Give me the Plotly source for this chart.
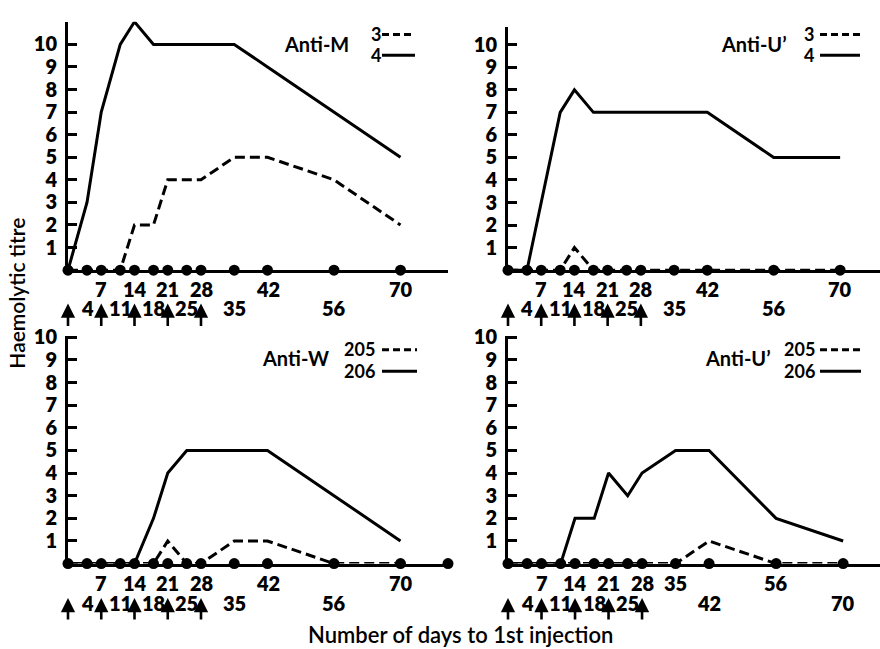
import plotly.graph_objects as go

W, H = 880, 649

# ---- data ----
days = [0, 4, 7, 11, 14, 18, 21, 25, 28, 35, 42, 56, 70]
injection_days = [0, 7, 14, 21, 28]

anti_m_3 = [0, 0, 0, 0, 2, 2, 4, 4, 4, 5, 5, 4, 2]
anti_m_4 = [0, 3, 7, 10, 11, 10, 10, 10, 10, 10, 9, 7, 5]

anti_u_3 = [0, 0, 0, 0, 1, 0, 0, 0, 0, 0, 0, 0, 0]
anti_u_4 = [0, 0, 3, 7, 8, 7, 7, 7, 7, 7, 7, 5, 5]

anti_w_205 = [0, 0, 0, 0, 0, 0, 1, 0, 0, 1, 1, 0, 0]
anti_w_206 = [0, 0, 0, 0, 0, 2, 4, 5, 5, 5, 5, 3, 1]

anti_u2_205 = [0, 0, 0, 0, 0, 0, 0, 0, 0, 0, 1, 0, 0]
anti_u2_206 = [0, 0, 0, 0, 2, 2, 4, 3, 4, 5, 5, 2, 1]

extra_dot_days_bl = [80]

labels_row1_a = [7, 14, 21, 28, 42, 70]
labels_row2_a = [4, 11, 18, 25, 35, 56]
labels_row1_b = [7, 14, 21, 28, 35, 56]
labels_row2_b = [4, 11, 18, 25, 42, 70]

y_ticks = [1, 2, 3, 4, 5, 6, 7, 8, 9, 10]


def px(x):
    return x / W


def py(y):
    return 1 - y / H


FONT = "Lato, 'Open Sans', 'DejaVu Sans', sans-serif"
BLACK = "#000000"

panels = [
    dict(name="Anti-M", a="3", b="4", ya=anti_m_3, yb=anti_m_4,
         xdom=(68, 448), xr=80, ydom=(263, 10), yr=11,
         r1=labels_row1_a, r2=labels_row2_a, rows=(282, 302), arrow=(297, 321),
         leg=dict(tx=316, ty=33, nx=376, na=22, nb=44, lx0=382, lx1=415),
         extra=[]),
    dict(name="Anti-U\u2019", a="3", b="4", ya=anti_u_3, yb=anti_u_4,
         xdom=(508, 880), xr=78.4, ydom=(263, 15), yr=10.8,
         r1=labels_row1_a, r2=labels_row2_a, rows=(282, 302), arrow=(297, 321),
         leg=dict(tx=754, ty=33, nx=809, na=22, nb=44, lx0=820, lx1=860),
         extra=[]),
    dict(name="Anti-W", a="205", b="206", ya=anti_w_205, yb=anti_w_206,
         xdom=(68, 448), xr=80, ydom=(562, 330), yr=10.06,
         r1=labels_row1_a, r2=labels_row2_a, rows=(582, 602), arrow=(597, 620),
         leg=dict(tx=295, ty=353, nx=359, na=343, nb=366, lx0=382, lx1=417),
         extra=extra_dot_days_bl),
    dict(name="Anti-U\u2019", a="205", b="206", ya=anti_u2_205, yb=anti_u2_206,
         xdom=(508, 880), xr=77.7, ydom=(562, 330), yr=10.06,
         r1=labels_row1_b, r2=labels_row2_b, rows=(582, 602), arrow=(597, 620),
         leg=dict(tx=738, ty=353, nx=799, na=343, nb=366, lx0=820, lx1=861),
         extra=[]),
]

fig = go.Figure()
annotations = []
shapes = []
layout = {}

tick_font = dict(family=FONT, size=20, color=BLACK, weight=800)

for i, p in enumerate(panels, start=1):
    xa = "x" if i == 1 else f"x{i}"
    ya = "y" if i == 1 else f"y{i}"
    xkey = "xaxis" if i == 1 else f"xaxis{i}"
    ykey = "yaxis" if i == 1 else f"yaxis{i}"

    layout[xkey] = dict(
        domain=[px(p["xdom"][0]), px(p["xdom"][1])], range=[0, p["xr"]],
        anchor=ya, showline=True, linewidth=3, linecolor=BLACK,
        showgrid=False, zeroline=False, showticklabels=False, ticks="",
        fixedrange=True)
    layout[ykey] = dict(
        domain=[py(p["ydom"][0]), py(p["ydom"][1])], range=[0, p["yr"]],
        anchor=xa, showline=True, linewidth=3, linecolor=BLACK,
        showgrid=False, zeroline=False, ticks="inside", ticklen=9,
        tickwidth=3, tickcolor=BLACK, tickvals=y_ticks,
        ticktext=[str(v) for v in y_ticks], ticklabelstandoff=4,
        tickfont=tick_font,
        fixedrange=True)

    fig.add_trace(go.Scatter(
        x=days, y=p["ya"], xaxis=xa, yaxis=ya, mode="lines",
        line=dict(color=BLACK, width=3, dash="10px,5px"),
        cliponaxis=False, showlegend=False, hoverinfo="skip"))
    fig.add_trace(go.Scatter(
        x=days, y=p["yb"], xaxis=xa, yaxis=ya, mode="lines",
        line=dict(color=BLACK, width=3),
        cliponaxis=False, showlegend=False, hoverinfo="skip"))
    dot_days = days + p["extra"]
    fig.add_trace(go.Scatter(
        x=dot_days, y=[0] * len(dot_days), xaxis=xa, yaxis=ya, mode="markers",
        marker=dict(color=BLACK, size=11),
        cliponaxis=False, showlegend=False, hoverinfo="skip"))

    for d in p["r1"]:
        annotations.append(dict(x=d, xref=xa, y=py(p["rows"][0]), yref="paper",
                                text=str(d), showarrow=False, font=tick_font,
                                xanchor="center", yanchor="middle", borderpad=0))
    for d in p["r2"]:
        annotations.append(dict(x=d, xref=xa, y=py(p["rows"][1]), yref="paper",
                                text=str(d), showarrow=False, font=tick_font,
                                xanchor="center", yanchor="middle", borderpad=0))
    for d in injection_days:
        annotations.append(dict(x=d, xref=xa, y=py(p["arrow"][0]), yref="paper",
                                text="", showarrow=True, ax=0,
                                ay=p["arrow"][1] - p["arrow"][0],
                                arrowhead=2, arrowsize=1.1, arrowwidth=2.6,
                                arrowcolor=BLACK, standoff=0, startstandoff=0))

    lg = p["leg"]
    leg_font = dict(family=FONT, size=20, color=BLACK, weight=700)
    annotations.append(dict(x=px(lg["tx"]), y=py(lg["ty"]), xref="paper", yref="paper",
                            text=p["name"], showarrow=False, font=leg_font,
                            xanchor="center", yanchor="middle"))
    num_font = dict(family=FONT, size=18, color=BLACK, weight=700)
    annotations.append(dict(x=px(lg["nx"]), y=py(lg["na"]), xref="paper", yref="paper",
                            text=p["a"], showarrow=False, font=num_font,
                            xanchor="center", yanchor="middle", borderpad=0))
    annotations.append(dict(x=px(lg["nx"]), y=py(lg["nb"]), xref="paper", yref="paper",
                            text=p["b"], showarrow=False, font=num_font,
                            xanchor="center", yanchor="middle", borderpad=0))
    shapes.append(dict(type="line", xref="paper", yref="paper",
                       x0=px(lg["lx0"]), x1=px(lg["lx1"]),
                       y0=py(lg["na"] + 1), y1=py(lg["na"] + 1),
                       line=dict(color=BLACK, width=3, dash="7px,4px")))
    shapes.append(dict(type="line", xref="paper", yref="paper",
                       x0=px(lg["lx0"]), x1=px(lg["lx1"]),
                       y0=py(lg["nb"]), y1=py(lg["nb"]),
                       line=dict(color=BLACK, width=3)))

annotations.append(dict(x=px(17), y=py(287), xref="paper", yref="paper",
                        text="Haemolytic titre", textangle=-90, showarrow=False,
                        font=dict(family=FONT, size=21, color=BLACK, weight=600),
                        xanchor="center", yanchor="middle"))
annotations.append(dict(x=px(460), y=py(634), xref="paper", yref="paper",
                        text="Number of days to 1st injection", showarrow=False,
                        font=dict(family=FONT, size=22, color=BLACK, weight=600),
                        xanchor="center", yanchor="middle", borderpad=0))

fig.update_layout(
    width=W, height=H,
    margin=dict(l=0, r=0, t=0, b=0),
    paper_bgcolor="white", plot_bgcolor="white",
    annotations=annotations, shapes=shapes,
    **layout)

fig.write_html(
    "out.html",
    config={"displayModeBar": False},
    post_script="document.body.style.margin='0px';document.body.style.overflow='hidden';",
)
